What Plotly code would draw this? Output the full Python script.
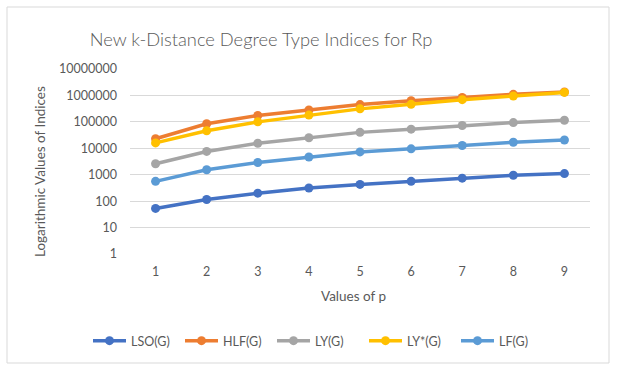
import plotly.graph_objects as go

# values of p (categories)
p_values = [1, 2, 3, 4, 5, 6, 7, 8, 9]

# index values (log scale)
lso = [53, 115, 200, 315, 430, 560, 740, 950, 1100]
hlf = [23000, 85000, 174000, 280000, 450000, 630000, 840000, 1100000, 1350000]
ly = [2600, 7600, 15500, 25000, 40000, 53000, 73000, 94000, 115000]
ly_star = [16000, 46000, 100000, 180000, 310000, 460000, 690000, 950000, 1300000]
lf = [560, 1540, 2900, 4700, 7300, 9500, 12700, 17000, 20500]

y_ticks = [1, 10, 100, 1000, 10000, 100000, 1000000, 10000000]
y_ticktext = [str(v) for v in y_ticks]

series = [
    ('LSO(G)', lso, '#4472C4'),
    ('HLF(G)', hlf, '#ED7D31'),
    ('LY(G)', ly, '#A5A5A5'),
    ('LY*(G)', ly_star, '#FFC000'),
    ('LF(G)', lf, '#5B9BD5'),
]

font_family = 'Lato, Open Sans, sans-serif'
text_grey = '#595959'

W, H = 617, 370
L, R, T, B = 130, 27, 69, 116
pw, ph = W - L - R, H - T - B


def px_x(x):
    return (x - L) / pw


def px_y(y):
    return (H - B - y) / ph


fig = go.Figure()
for name, vals, color in series:
    fig.add_trace(go.Scatter(
        x=p_values, y=vals, name=name, mode='lines+markers',
        line=dict(color=color, width=3.5),
        marker=dict(color=color, size=9),
    ))

fig.update_layout(
    width=W, height=H, autosize=False,
    margin=dict(l=L, r=R, t=T, b=B, autoexpand=False),
    plot_bgcolor='white', paper_bgcolor='white',
    font=dict(family=font_family, color=text_grey, size=12.5),
    title=dict(
        text='New k-Distance Degree Type Indices for Rp',
        x=261 / W, xanchor='center', y=1 - 40 / H, yanchor='middle',
        font=dict(size=18.3, color=text_grey, weight=300),
    ),
    xaxis=dict(
        range=[0.5, 9.5], tickvals=p_values, showgrid=False,
        showline=False, zeroline=False, ticks='', ticklabelstandoff=8,
    ),
    yaxis=dict(
        type='log', range=[0, 7], tickvals=y_ticks, ticktext=y_ticktext,
        showgrid=True, gridcolor='#D9D9D9', gridwidth=1,
        showline=False, zeroline=False, ticks='', ticklabelstandoff=12,
    ),
    legend=dict(
        orientation='h', xref='container', x=318 / W, xanchor='center',
        yref='container', y=1 - 341 / H, yanchor='middle',
        font=dict(size=12.5, color=text_grey),
        itemwidth=33, entrywidth=44, entrywidthmode='pixels',
    ),
    showlegend=True,
)

# axis titles
fig.add_annotation(
    text='Logarithmic Values of Indices', textangle=-90,
    xref='paper', yref='paper', x=px_x(40), y=px_y(172),
    xanchor='center', yanchor='middle', showarrow=False,
    font=dict(size=13.5, color=text_grey),
)
fig.add_annotation(
    text='Values of p',
    xref='paper', yref='paper', x=px_x(353), y=px_y(296),
    xanchor='center', yanchor='middle', showarrow=False,
    font=dict(size=13.5, color=text_grey),
)

# chart area border
fig.add_shape(
    type='rect', xref='paper', yref='paper',
    x0=px_x(7), x1=px_x(609), y0=px_y(363), y1=px_y(7),
    line=dict(color='#D9D9D9', width=1), layer='below',
)

fig.write_html('out.html', config={'displayModeBar': False},
               post_script="document.body.style.margin='0';")
